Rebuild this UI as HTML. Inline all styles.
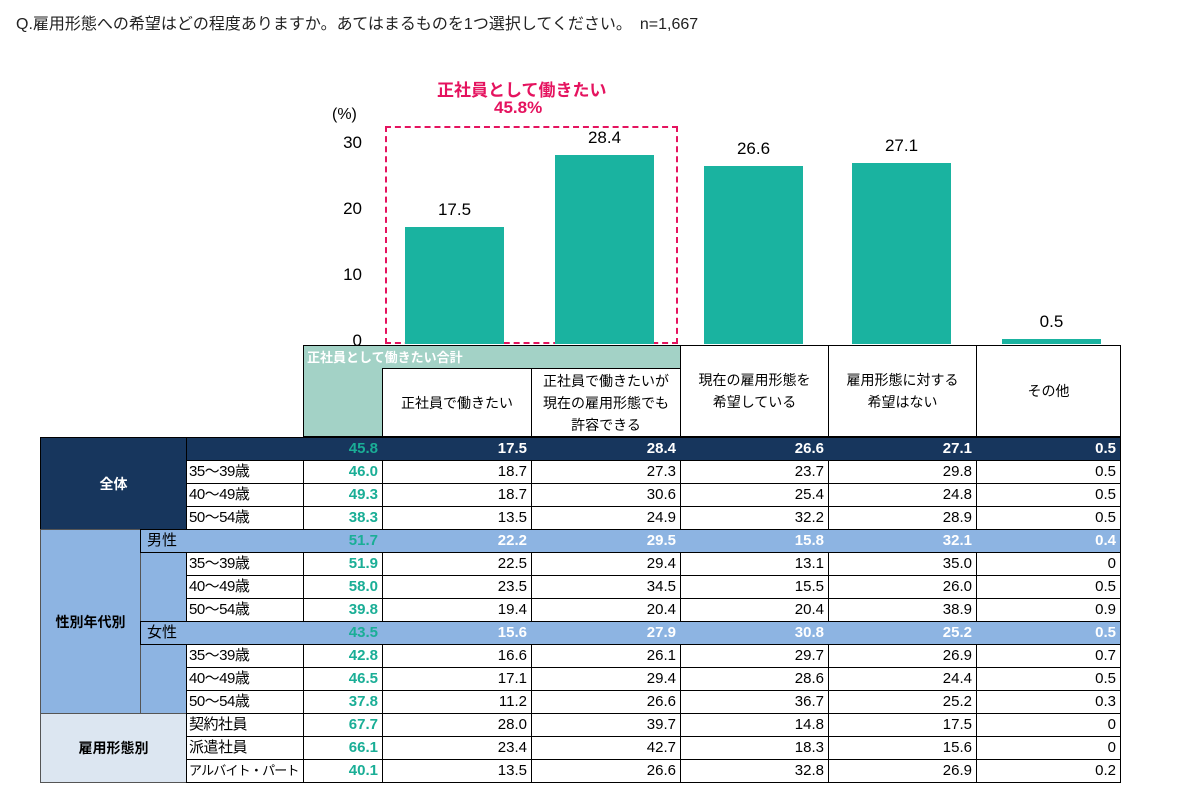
<!DOCTYPE html>
<html><head><meta charset="utf-8">
<style>
body{margin:0;background:#fff;width:1200px;height:790px;overflow:hidden;position:relative;font-family:"Liberation Sans","Noto Sans CJK JP",sans-serif;}
.a{position:absolute;box-sizing:border-box;white-space:nowrap;overflow:hidden;}
.t{position:absolute;white-space:nowrap;}
</style></head><body>
<div class="t" style="left:16px;top:10px;font-size:16px;color:#222;">Q.雇用形態への希望はどの程度ありますか。あてはまるものを1つ選択してください。　n=1,667</div>
<div class="t" style="left:437px;top:76px;font-size:17px;font-weight:bold;color:#e5135f;">正社員として働きたい</div>
<div class="t" style="left:494px;top:98px;font-size:17px;font-weight:bold;color:#e5135f;">45.8%</div>
<div class="a" style="left:385px;top:126px;width:293px;height:218px;border:2px dashed #e5135f;"></div>
<div class="t" style="left:332px;top:106px;font-size:16px;">(%)</div>
<div id="chart"></div>
<div id="table"></div>
<script>
const categories=["正社員で働きたい","正社員で働きたいが現在の雇用形態でも許容できる","現在の雇用形態を希望している","雇用形態に対する希望はない","その他"];
const values=[17.5,28.4,26.6,27.1,0.5];
const ticks=[0,10,20,30];
const y0=342,pxPer=6.6,barW=99,barX=[405,555,704,852,1002];
function yScale(v){return y0-v*pxPer;}
const chart=document.getElementById('chart');
ticks.forEach(t=>{const d=document.createElement('div');d.className='t';


d.style.cssText=`right:${1200-362}px;top:${yScale(t)-11}px;font-size:17px;`;d.textContent=t;chart.appendChild(d);});
values.forEach((v,i)=>{const b=document.createElement('div');b.className='a';


b.style.cssText=`left:${barX[i]}px;top:${yScale(v)}px;width:${barW}px;height:${v*pxPer+2}px;background:#1ab3a0;`;chart.appendChild(b);
const l=document.createElement('div');l.className='t';


l.style.cssText=`left:${barX[i]}px;width:${barW}px;text-align:center;top:${yScale(v)-27}px;font-size:17px;`;l.textContent=v.toFixed(1);chart.appendChild(l);});

const rows=[
["全体",45.8,[17.5,28.4,26.6,27.1,0.5],"all"],
["35～39歳",46.0,[18.7,27.3,23.7,29.8,0.5],"sub"],
["40～49歳",49.3,[18.7,30.6,25.4,24.8,0.5],"sub"],
["50～54歳",38.3,[13.5,24.9,32.2,28.9,0.5],"sub"],
["男性",51.7,[22.2,29.5,15.8,32.1,0.4],"band"],
["35～39歳",51.9,[22.5,29.4,13.1,35.0,0],"sub"],
["40～49歳",58.0,[23.5,34.5,15.5,26.0,0.5],"sub"],
["50～54歳",39.8,[19.4,20.4,20.4,38.9,0.9],"sub"],
["女性",43.5,[15.6,27.9,30.8,25.2,0.5],"band"],
["35～39歳",42.8,[16.6,26.1,29.7,26.9,0.7],"sub"],
["40～49歳",46.5,[17.1,29.4,28.6,24.4,0.5],"sub"],
["50～54歳",37.8,[11.2,26.6,36.7,25.2,0.3],"sub"],
["契約社員",67.7,[28.0,39.7,14.8,17.5,0],"sub"],
["派遣社員",66.1,[23.4,42.7,18.3,15.6,0],"sub"],
["アルバイト・パート",40.1,[13.5,26.6,32.8,26.9,0.2],"sub"]];
const colX=[382,531,680,828,976,1120];
const T=document.getElementById('table');
function box(html,css,name){const d=document.createElement('div');d.className='a';d.style.cssText=css;d.innerHTML=html;T.appendChild(d);return d;}
box('','left:303px;top:345px;width:378px;height:92px;background:#a3d2c6;border:1px solid #000;','header-total-bg');
box('正社員として働きたい合計','left:307px;top:347px;font-size:13px;font-weight:bold;color:#fff;overflow:visible;','header-total-label');
const hdr=["正社員で働きたい","正社員で働きたいが<br>現在の雇用形態でも<br>許容できる","現在の雇用形態を<br>希望している","雇用形態に対する<br>希望はない","その他"];
hdr.forEach((h,i)=>{const top=i<2?368:345;box(h,`left:${colX[i]}px;top:${top}px;width:${colX[i+1]-colX[i]+1}px;height:${437-top}px;background:#fff;border:1px solid #000;display:flex;align-items:center;justify-content:center;text-align:center;font-size:14px;line-height:22px;`,'column-header');});
box('全体','left:40px;top:437px;width:147px;height:93px;background:#17365d;color:#fff;font-weight:bold;font-size:14px;display:flex;align-items:center;justify-content:center;border:1px solid #000;','group-all');
box('性別年代別','left:40px;top:529px;width:101px;height:185px;background:#8db4e2;font-weight:bold;font-size:14px;display:flex;align-items:center;justify-content:center;border:1px solid #555;','group-gender-age');
box('','left:140px;top:529px;width:47px;height:185px;background:#8db4e2;border:1px solid #555;','group-gender-sub');
box('雇用形態別','left:40px;top:713px;width:147px;height:70px;background:#dce6f1;font-weight:bold;font-size:14px;display:flex;align-items:center;justify-content:center;border:1px solid #555;','group-employment');
rows.forEach((r,i)=>{const y=437+i*23;
 if(r[3]==='all'||r[3]==='band'){
  const bg=r[3]==='all'?'#17365d':'#8db4e2';const lx=r[3]==='all'?186:140;
  box('',`left:${lx}px;top:${y}px;width:${1121-lx}px;height:24px;background:${bg};border:1px solid #000;`,'band-row');
  if(r[3]==='band')box(r[0],`left:147px;top:${y}px;font-size:15px;line-height:23px;`,'band-label');
  box(r[1].toFixed(1),`left:303px;top:${y}px;width:79px;height:23px;text-align:right;padding-right:4px;color:#1aae96;font-weight:bold;font-size:15px;line-height:23px;`,'total-value');
  r[2].forEach((v,j)=>{box(v.toFixed(1),`left:${colX[j]}px;top:${y}px;width:${colX[j+1]-colX[j]}px;height:23px;text-align:right;padding-right:4px;color:#fff;font-weight:bold;font-size:15px;line-height:23px;`,'cell-value');});
 }else{
  const fs=r[0].length>6?13:15;
  box(r[0],`left:186px;top:${y}px;width:118px;height:24px;background:#fff;border:1px solid #000;font-size:${fs}px;line-height:22px;padding-left:2px;letter-spacing:${fs<15?-0.8:-0.5}px;`,'row-label');
  box(r[1].toFixed(1),`left:303px;top:${y}px;width:80px;height:24px;background:#fff;border:1px solid #000;text-align:right;padding-right:4px;color:#1aae96;font-weight:bold;font-size:15px;line-height:22px;`,'total-value');
  r[2].forEach((v,j)=>{box(v===0?'0':v.toFixed(1),`left:${colX[j]}px;top:${y}px;width:${colX[j+1]-colX[j]+1}px;height:24px;background:#fff;border:1px solid #000;text-align:right;padding-right:4px;font-size:15px;line-height:22px;`,'cell-value');});
 }});
</script>
</body></html>
